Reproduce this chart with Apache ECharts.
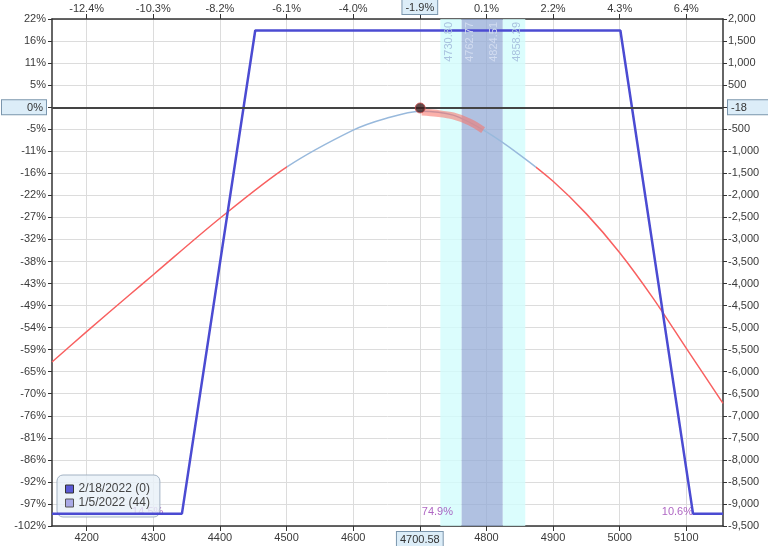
<!DOCTYPE html>
<html>
<head>
<meta charset="utf-8">
<script src="https://cdn.jsdelivr.net/npm/echarts@6/dist/echarts.min.js"></script>
<style>
  html, body { margin: 0; padding: 0; background: #fff; }
  #main { width: 768px; height: 546px; }
</style>
</head>
<body>
<div id="main"></div>
<script>
// axis ticks and labels
const priceTicks = [4200, 4300, 4400, 4500, 4600, 4700, 4800, 4900, 5000, 5100];
const pctTickLabels = ["-12.4%", "-10.3%", "-8.2%", "-6.1%", "-4.0%", "-1.9%", "0.1%", "2.2%", "4.3%", "6.4%"];
const leftPctLabels = ["22%", "16%", "11%", "5%", "0%", "-5%", "-11%", "-16%", "-22%", "-27%", "-32%", "-38%",
  "-43%", "-49%", "-54%", "-59%", "-65%", "-70%", "-76%", "-81%", "-86%", "-92%", "-97%", "-102%"];
const currentPrice = 4700.58;
const currentPL = -18;

// expiration 2/18/2022
const expName = "2/18/2022 (0)";
const expPrice = [4148, 4343, 4453, 5001, 5110, 5155];
const expPL = [-9220, -9220, 1740, 1740, -9220, -9220];

// T+0 1/5/2022
const t0Name = "1/5/2022 (44)";
const t0Price = [4148, 4200, 4265, 4300, 4400, 4500, 4600, 4650, 4700, 4750, 4800, 4850, 4900, 4950, 5000, 5050, 5100, 5155];
const t0PL = [-5780, -5090, -4250, -3800, -2520, -1360, -520, -250, -90, -180, -560, -1080, -1680, -2420, -3300, -4330, -5470, -6720];

// highlighted stretch of the T+0 curve
const hlPrice = [4703, 4725, 4750, 4775, 4795];
const hlPL = [-110, -140, -200, -340, -520];

// vertical bands (std dev ranges)
const bandOuter = [4730.80, 4858.29];
const bandInner = [4762.77, 4824.51];

// probability labels at the bottom
const probPrice = [4315, 4703, 5110];
const probText = ["14.5%", "74.9%", "10.6%"];
const probPL = -9190;

const font = "Liberation Sans";
const hlBox = {
  backgroundColor: "#dcedf8",
  borderColor: "#7b96ad",
  borderWidth: 1,
  padding: [2, 3, 1, 3],
  fontSize: 11,
  fontFamily: font,
  color: "#333",
};

const chartDom = document.getElementById("main");
const myChart = echarts.init(chartDom, null, { renderer: "canvas" });

const zip = (a, b) => a.map((v, i) => [v, b[i]]);

const bandLabel = (position, color) => ({
  show: true,
  position: position,
  formatter: (p) => Number(p.value).toFixed(2),
  color: color,
  fontSize: 11,
  distance: 3,
});
const hidden = { color: "rgba(0,0,0,0)", width: 1 };

const option = {
  animation: false,
  textStyle: { fontFamily: font },
  grid: { left: 52, right: 45, top: 19, bottom: 20, outerBoundsMode: "none", containLabel: false },
  legend: {
    left: 57,
    top: 475,
    orient: "vertical",
    icon: "rect",
    itemWidth: 8,
    itemHeight: 8,
    itemGap: 2,
    padding: [8, 10, 8, 8],
    selectedMode: false,
    backgroundColor: "rgba(232,240,248,0.82)",
    borderColor: "#a3b3c4",
    borderWidth: 1,
    borderRadius: 6,
    textStyle: { fontSize: 12, color: "#444", fontFamily: font },
    data: [
      { name: expName, itemStyle: { color: "#5a5ad6", borderColor: "#333", borderWidth: 1 } },
      { name: t0Name, itemStyle: { color: "#a9a9e6", borderColor: "#555", borderWidth: 1 } },
    ],
  },
  visualMap: {
    show: false,
    type: "piecewise",
    seriesIndex: 3,
    dimension: 0,
    pieces: [
      { lt: 4500, color: "#f86060" },
      { gte: 4500, lte: 4875, color: "#98b9dc" },
      { gt: 4875, color: "#f86060" },
    ],
  },
  xAxis: [
    {
      type: "value",
      position: "bottom",
      min: 4148,
      max: 5155,
      axisLine: { show: true, onZero: false, lineStyle: { color: "#333", width: 1.5 } },
      axisTick: { show: true, customValues: priceTicks, length: 5, lineStyle: { color: "#333" } },
      axisLabel: {
        customValues: priceTicks,
        margin: 6,
        fontSize: 11,
        color: "#3a3a3a",
        formatter: (v) => (v === 4700 ? "{hl|" + currentPrice.toFixed(2) + "}" : String(v)),
        rich: { hl: hlBox },
      },
      splitLine: { show: true, lineStyle: { color: "#dcdcdc", width: 1 } },
    },
    {
      type: "value",
      position: "top",
      min: 4148,
      max: 5155,
      axisLine: { show: true, onZero: false, lineStyle: { color: "#333", width: 1.5 } },
      axisTick: { show: true, customValues: priceTicks, length: 5, lineStyle: { color: "#333" } },
      axisLabel: {
        customValues: priceTicks,
        margin: 5,
        fontSize: 11,
        color: "#3a3a3a",
        formatter: (v) => {
          const i = priceTicks.indexOf(v);
          const t = pctTickLabels[i] || "";
          return v === 4700 ? "{hl|" + t + "}" : t;
        },
        rich: { hl: hlBox },
      },
      splitLine: { show: false },
    },
  ],
  yAxis: [
    {
      type: "value",
      position: "left",
      min: -9500,
      max: 2000,
      interval: 500,
      axisLine: { show: true, onZero: false, lineStyle: { color: "#333", width: 1.5 } },
      axisTick: { show: true, length: 4, lineStyle: { color: "#333" } },
      axisLabel: {
        margin: 6,
        fontSize: 11,
        color: "#3a3a3a",
        formatter: (v) => {
          const t = leftPctLabels[Math.round((2000 - v) / 500)];
          return v === 0 ? "{hl|" + t + "}" : t;
        },
        rich: { hl: Object.assign({}, hlBox, { width: 38, align: "right" }) },
      },
      splitLine: { show: true, lineStyle: { color: "#dcdcdc", width: 1 } },
    },
    {
      type: "value",
      position: "right",
      min: -9500,
      max: 2000,
      interval: 500,
      axisLine: { show: true, onZero: false, lineStyle: { color: "#333", width: 1.5 } },
      axisTick: { show: true, length: 4, lineStyle: { color: "#333" } },
      axisLabel: {
        margin: 5,
        fontSize: 11,
        color: "#3a3a3a",
        formatter: (v) => (v === 0 ? "{hl|" + currentPL + "}" : v.toLocaleString("en-US")),
        rich: { hl: Object.assign({}, hlBox, { width: 40, align: "left" }) },
      },
      splitLine: { show: false },
    },
  ],
  series: [
    {
      // shaded bands + zero line
      name: "bands",
      type: "line",
      data: [],
      z: 1,
      silent: true,
      markArea: {
        silent: true,
        data: [
          [{ xAxis: bandOuter[0], itemStyle: { color: "rgba(210,253,253,0.8)" } }, { xAxis: bandInner[0] }],
          [{ xAxis: bandInner[0], itemStyle: { color: "rgba(150,172,215,0.75)" } }, { xAxis: bandInner[1] }],
          [{ xAxis: bandInner[1], itemStyle: { color: "rgba(210,253,253,0.8)" } }, { xAxis: bandOuter[1] }],
        ],
      },
      markLine: {
        silent: true,
        symbol: "none",
        data: [
          { yAxis: currentPL, lineStyle: { color: "#444", width: 2, type: "solid" }, label: { show: false } },
        ],
      },
    },
    {
      // band edge labels
      name: "bandLabels",
      type: "line",
      data: [],
      z: 2,
      silent: true,
      markLine: {
        silent: true,
        symbol: "none",
        data: [
          { xAxis: bandOuter[0], lineStyle: hidden, label: bandLabel("insideEndBottom", "#a9c2df") },
          { xAxis: bandInner[0], lineStyle: hidden, label: bandLabel("insideEndBottom", "#d2dcf0") },
          { xAxis: bandInner[1], lineStyle: hidden, label: bandLabel("insideEndTop", "#d2dcf0") },
          { xAxis: bandOuter[1], lineStyle: hidden, label: bandLabel("insideEndTop", "#a9c2df") },
        ],
      },
    },
    {
      name: expName,
      type: "line",
      data: zip(expPrice, expPL),
      symbol: "none",
      z: 4,
      lineStyle: { color: "#4b4bd2", width: 2.5 },
      itemStyle: { color: "#5a5ad6" },
    },
    {
      name: t0Name,
      type: "line",
      data: zip(t0Price, t0PL),
      symbol: "none",
      smooth: 0.3,
      z: 3,
      lineStyle: { width: 1.5 },
      itemStyle: { color: "#a9a9e6" },
    },
    {
      name: "highlight",
      type: "line",
      data: zip(hlPrice, hlPL),
      symbol: "none",
      smooth: 0.3,
      z: 3,
      silent: true,
      lineStyle: { color: "rgba(250,112,100,0.55)", width: 7 },
    },
    {
      name: "prob",
      type: "scatter",
      symbolSize: 0,
      z: 2,
      silent: true,
      data: probPrice.map((p, i) => ({
        value: [p, probPL],
        label: {
          show: true,
          position: "inside",
          align: i === 1 ? "left" : "right",
          formatter: probText[i],
          color: "#9b40b4",
          fontSize: 11,
        },
      })),
    },
    {
      name: "current",
      type: "scatter",
      symbolSize: 10,
      z: 6,
      silent: true,
      data: [[currentPrice, currentPL]],
      itemStyle: { color: "#3c1d1d", borderColor: "#d05050", borderWidth: 1 },
    },
  ],
};

myChart.setOption(option);
window.addEventListener("resize", () => {
  myChart.resize();
});
</script>
</body>
</html>
